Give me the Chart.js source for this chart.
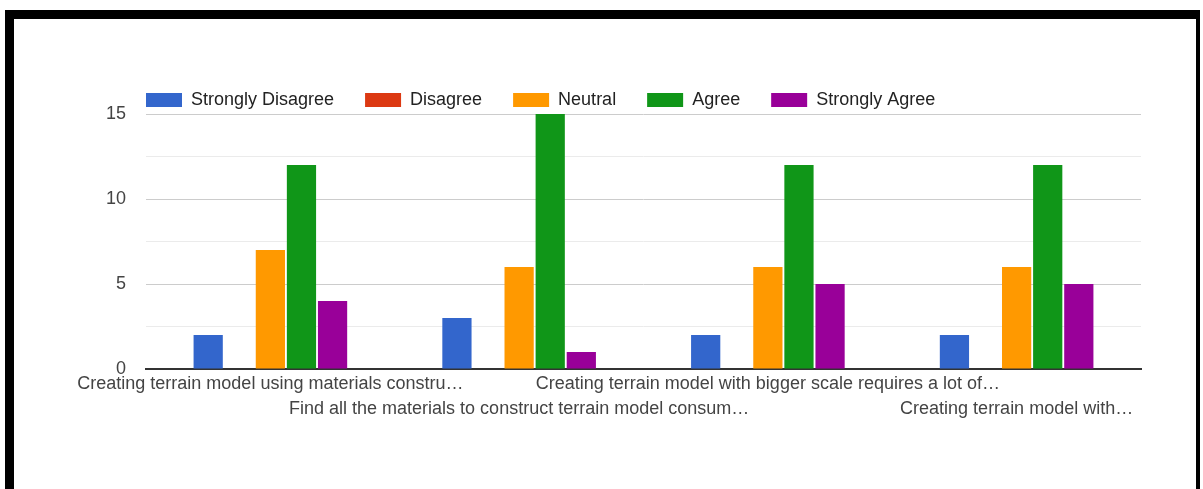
<!DOCTYPE html>
<html lang="en">
  <head>
    <meta charset="UTF-8" />
    <title>Survey responses</title>
    <script src="https://cdn.jsdelivr.net/npm/chart.js"></script>
    <style>
      body { margin: 0; background: #fff; }
      .frame {
        position: absolute;
        left: 5px;
        top: 10px;
        width: 1182px;
        height: 500px;
        border-top: 9px solid #000;
        border-left: 9px solid #000;
        border-right: 4px solid #000;
      }
      .chart-box {
        position: absolute;
        left: 60px;
        top: 55px;
        width: 1100px;
        height: 374px;
      }
    </style>
  </head>
  <body>
    <div class="frame"></div>
    <div class="chart-box">
      <canvas id="myChart"></canvas>
    </div>

<script>
// answers per statement
const categories = [
  "Creating terrain model using materials constru…",
  "Find all the materials to construct terrain model consum…",
  "Creating terrain model with bigger scale requires a lot of…",
  "Creating terrain model with…"
];
const stronglyDisagree = [2, 3, 2, 2];
const disagree = [0, 0, 0, 0];
const neutral = [7, 6, 6, 6];
const agree = [12, 15, 12, 12];
const stronglyAgree = [4, 1, 5, 5];

const yMax = 15;
const yStep = 2.5;

const fontFamily = "'Liberation Sans', Arial, sans-serif";

// put the legend in line with the plot's left edge
const legendPlacement = {
  id: "legendPlacement",
  afterLayout(chart) {
    const lg = chart.legend;
    lg.left = chart.chartArea.left - lg.options.labels.padding;
    lg.top += 5;
  }
};

const ctx = document.getElementById("myChart");
new Chart(ctx, {
  type: "bar",
  data: {
    labels: categories,
    datasets: [
      { label: "Strongly Disagree", data: stronglyDisagree, backgroundColor: "#3366cc" },
      { label: "Disagree", data: disagree, backgroundColor: "#dc3912" },
      { label: "Neutral", data: neutral, backgroundColor: "#ff9900" },
      { label: "Agree", data: agree, backgroundColor: "#109618" },
      { label: "Strongly Agree", data: stronglyAgree, backgroundColor: "#990099" }
    ]
  },
  options: {
    responsive: true,
    maintainAspectRatio: false,
    animation: false,
    layout: { padding: { left: 0, right: 19, top: 0, bottom: 0 } },
    datasets: {
      bar: { categoryPercentage: 0.625, barPercentage: 0.94 }
    },
    scales: {
      x: {
        grid: { display: false, drawTicks: false },
        border: { color: "#333", width: 2 },
        ticks: {
          autoSkip: false,
          maxRotation: 0,
          minRotation: 0,
          padding: 3,
          color: "#444",
          font: { family: fontFamily, size: 18, lineHeight: 1.39 },
          // every second label goes on a lower row
          callback: function (value, index) {
            const text = this.getLabelForValue(value);
            return index % 2 === 1 ? ["", text] : text;
          }
        },
        afterFit(axis) { axis.height = 60; }
      },
      y: {
        min: 0,
        max: yMax,
        border: { display: false },
        grid: {
          drawTicks: false,
          lineWidth: 1,
          color: (c) => {
            if (c.tick.value === 0) return "rgba(0,0,0,0)";
            return c.tick.value % 5 === 0 ? "#cccccc" : "#ebebeb";
          }
        },
        ticks: {
          stepSize: yStep,
          padding: 20,
          color: "#444",
          font: { family: fontFamily, size: 18 },
          callback: (v) => (v % 5 === 0 ? v : "")
        },
        afterFit(axis) { axis.width = 86; }
      }
    },
    plugins: {
      legend: {
        position: "top",
        align: "start",
        labels: {
          boxWidth: 36,
          boxHeight: 14,
          padding: 31,
          color: "#222",
          font: { family: fontFamily, size: 18 }
        }
      },
      tooltip: { enabled: false }
    }
  },
  plugins: [legendPlacement]
});
</script>
  </body>
</html>
